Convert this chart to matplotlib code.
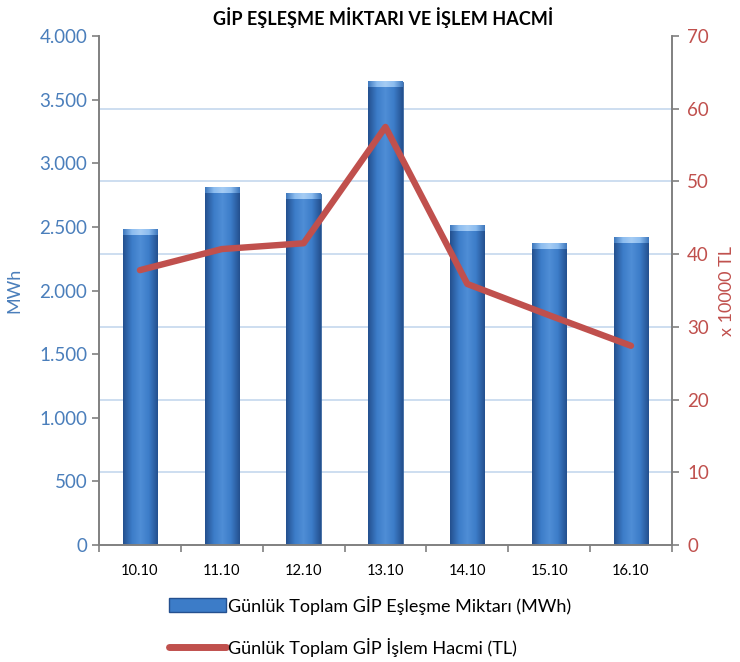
import numpy as np
import matplotlib
matplotlib.use("Agg")
import matplotlib.pyplot as plt
from matplotlib.patches import Patch
from matplotlib.lines import Line2D
from matplotlib.colors import LinearSegmentedColormap

# veriler
gunler = ["10.10", "11.10", "12.10", "13.10", "14.10", "15.10", "16.10"]
eslesme_mwh = [2475, 2805, 2758, 3638, 2507, 2365, 2413]
islem_hacmi = [37.8, 40.7, 41.5, 57.5, 35.9, 31.6, 27.4]  # x 10000 TL

mavi = "#4a7ebb"
kirmizi = "#c0504d"

plt.rcParams['font.family'] = ['Lato', 'DejaVu Sans']

fig = plt.figure(figsize=(7.4, 6.62), dpi=100)
ax1 = fig.add_axes([0.1338, 0.1767, 0.7742, 0.7689])
ax2 = ax1.twinx()

x = np.arange(len(gunler))
genislik = 0.42

ax1.set_xlim(-0.5, len(gunler) - 0.5)
ax1.set_ylim(0, 4000)
ax2.set_ylim(0, 70)

# ızgara çizgileri sağ eksene göre
oran = 4000 / 70
for t in range(10, 70, 10):
    ax1.axhline(t * oran, color="#c9dbef", lw=1.3, zorder=0)

# degrade sütunlar
cmap = LinearSegmentedColormap.from_list("silindir", ["#24508f", "#3c7cc8", "#4f8ed6", "#3c7cc8", "#24508f"])
grad = np.linspace(0, 1, 64).reshape(1, -1)
cmap_ust = LinearSegmentedColormap.from_list("ust", ["#3f78bd", "#8cbcef", "#a6ccf4", "#8cbcef", "#3f78bd"])
bars = ax1.bar(x, eslesme_mwh, width=genislik, color="#3c7cc8", zorder=2)
for b in bars:
    b.set_facecolor("none")
    b.set_edgecolor("#2a5a98")
    b.set_linewidth(0.6)
    im = ax1.imshow(grad, cmap=cmap, aspect="auto", zorder=2,
                    extent=(b.get_x(), b.get_x() + b.get_width(), 0, b.get_height()))
    im.set_clip_path(b)
    # üst kısımdaki açık renkli pah
    ust = ax1.imshow(grad, cmap=cmap_ust, aspect="auto", zorder=3,
                     extent=(b.get_x(), b.get_x() + b.get_width(), b.get_height() - 40, b.get_height()))
ax1.set_xlim(-0.5, len(gunler) - 0.5)
ax1.set_ylim(0, 4000)

ax2.plot(x, islem_hacmi, color=kirmizi, lw=4.6, solid_capstyle="round", zorder=5)

# eksenler
ax1.spines["top"].set_visible(False)
ax2.spines["top"].set_visible(False)
for ax in (ax1, ax2):
    for s in ["left", "right", "bottom"]:
        ax.spines[s].set_color("#808080")
        ax.spines[s].set_linewidth(1.2)

ax1.set_yticks(range(0, 4001, 500))
ax1.set_yticklabels([f"{v:,}".replace(",", ".") for v in range(0, 4001, 500)])
ax1.tick_params(axis="y", colors="#808080", labelcolor=mavi, labelsize=13.5, length=5, width=1.2)
ax2.set_yticks(range(0, 71, 10))
ax2.tick_params(axis="y", colors="#808080", labelcolor=kirmizi, labelsize=13.5, length=5, width=1.2, pad=6)

ax1.set_xticks(np.arange(-0.5, len(gunler), 1), minor=False)
ax1.set_xticklabels([])
ax1.set_xticks(x, minor=True)
ax1.set_xticklabels(gunler, minor=True)
ax1.tick_params(axis="x", which="major", colors="#808080", length=5, width=1.2)
ax1.tick_params(axis="x", which="minor", length=0, pad=14, labelsize=10.5)

ax1.set_ylabel("MWh", color=mavi, fontsize=13, labelpad=12)
ax2.set_ylabel("x 10000 TL", color=kirmizi, fontsize=13, labelpad=7)

fig.text(0.518, 0.973, "GİP EŞLEŞME MİKTARI VE İŞLEM HACMİ", ha="center", va="center",
         fontsize=13, fontweight="bold")

tutamaclar = [Patch(facecolor="#3c7cc8", edgecolor="#24508f"),
              Line2D([0], [0], color=kirmizi, lw=5, solid_capstyle="round")]
etiketler = ["Günlük Toplam GİP Eşleşme Miktarı (MWh)", "Günlük Toplam GİP İşlem Hacmi (TL)"]
fig.legend(tutamaclar, etiketler, loc="center", bbox_to_anchor=(0.5, 0.054), ncol=1,
           frameon=False, fontsize=13, handlelength=3.2, handletextpad=0.1,
           labelspacing=1.3, handleheight=0.8)

fig.savefig("out.png", dpi=100)
